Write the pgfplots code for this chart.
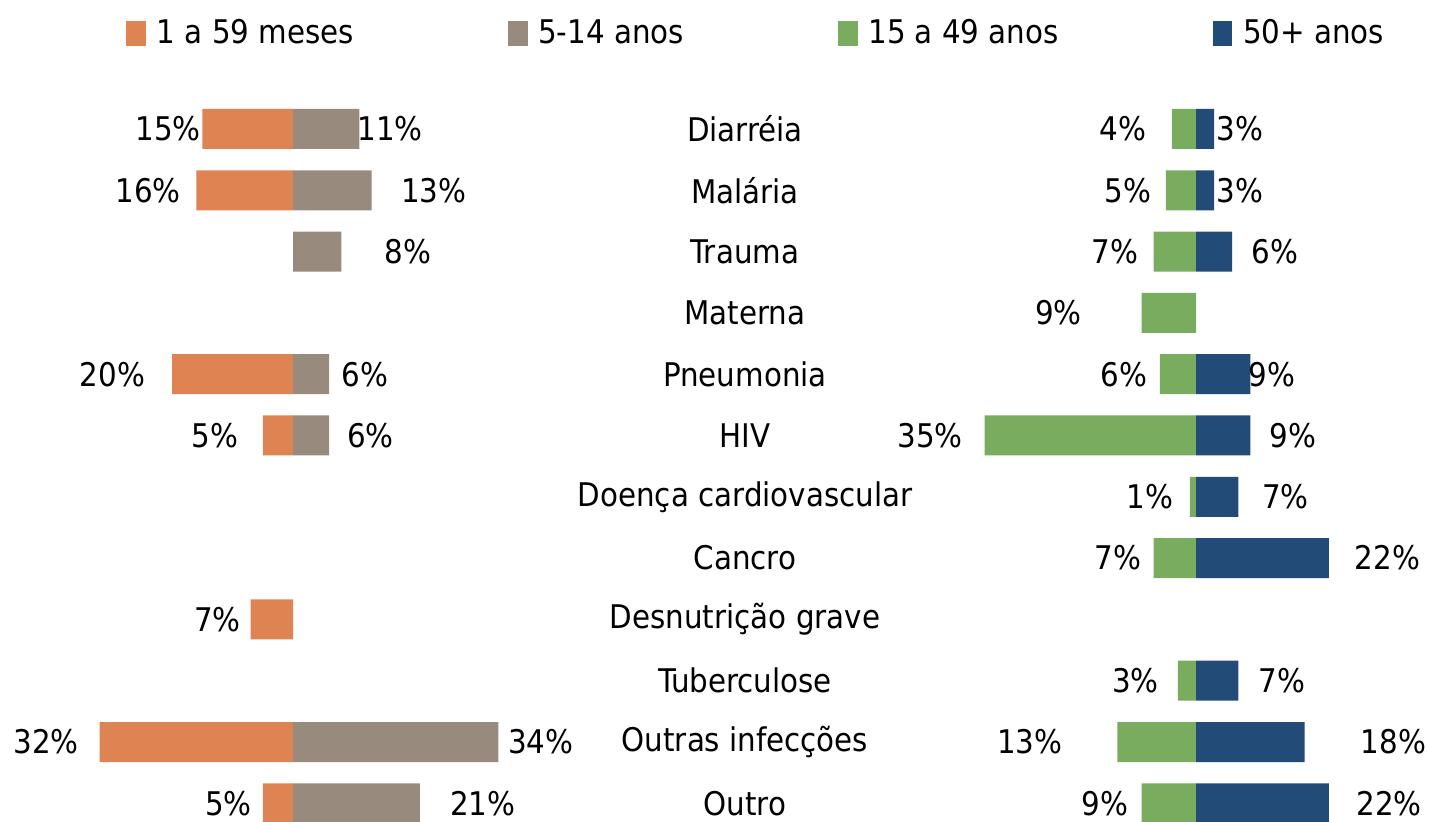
\documentclass[border=0pt]{standalone}
\usepackage{fontspec}
\setmainfont{DejaVu Sans Condensed}
\usepackage{pgfplots}
\pgfplotsset{compat=1.18}
\usepackage{pgfplotstable}

\definecolor{corange}{HTML}{DE8352}
\definecolor{cgray}{HTML}{988B7D}
\definecolor{cgreen}{HTML}{7AAC60}
\definecolor{cblue}{HTML}{234B78}
\newcommand\lblfont{\fontsize{16.3}{19.5}\selectfont}

% row = category index (0 = Diarréia ... 11 = Outro), v = value (%), lx = label centre
\pgfplotstableread{
row v lx
0 15 -20.7
1 16 -23.96
4 20 -29.9
5 5 -12.9
8 7 -12.5
10 32 -40.9
11 5 -10.7
}\tOrange
\pgfplotstableread{
row v lx
0 11 16.1
1 13 23.3
2 8 19.0
4 6 11.9
5 6 12.8
10 34 41.0
11 21 31.4
}\tGray
\pgfplotstableread{
row v lx
0 4 -12.1
1 5 -11.3
2 7 -13.4
3 9 -22.8
4 6 -11.9
5 35 -44.0
6 1 -7.6
7 7 -12.9
9 3 -10.0
10 13 -27.5
11 9 -15.1
}\tGreen
\pgfplotstableread{
row v lx
0 3 7.3
1 3 7.3
2 6 13.1
4 9 12.6
5 9 16.0
6 7 14.8
7 22 31.7
9 7 14.2
10 18 32.7
11 22 32.0
}\tBlue
\pgfplotstableread[col sep=comma]{
row,x,name
0,-74.67,Diarréia
1,-74.67,Malária
2,-74.67,Trauma
3,-74.67,Materna
4,-74.67,Pneumonia
5,-74.67,HIV
6,-74.67,Doença cardiovascular
7,-74.67,Cancro
8,-74.67,Desnutrição grave
9,-74.67,Tuberculose
10,-74.67,Outras infecções
11,-74.67,Outro
}\tCats

\pgfplotsset{
  panel/.style={
    at={(0,0)}, anchor=south west,
    scale only axis, width=714.5pt, height=410.5pt,
    ymin=-2.104, ymax=11.289, y dir=reverse,
    hide axis,
    every node near coord/.append style={anchor=center, font=\lblfont, text=black},
  },
  bars/.style={xbar, bar shift=0pt, bar width=0.6525, draw=none, fill=#1, forget plot},
  lbls/.style={draw=none, mark=none, forget plot,
    nodes near coords={\pgfplotspointmeta\%}, point meta=explicit symbolic},
}

\begin{document}
\begin{tikzpicture}
\useasboundingbox (0,0) rectangle (714.5pt,410.5pt);
% left panel
\begin{axis}[panel, xmin=-48.51, xmax=188.08,
  legend columns=4,
  legend style={at={(axis cs:-27.65,-1.566)}, anchor=west, draw=none, fill=none,
    inner sep=0pt, font=\lblfont,
    /tikz/every odd column/.append style={column sep=3.5pt},
    /tikz/every even column/.append style={column sep=75pt}},
]
\addlegendimage{legend image code/.code={\fill[corange] (0pt,-6pt) rectangle (9.3pt,6pt);}}
\addlegendimage{legend image code/.code={\fill[cgray] (0pt,-6pt) rectangle (9.3pt,6pt);}}
\addlegendimage{legend image code/.code={\fill[cgreen] (0pt,-6pt) rectangle (9.3pt,6pt);}}
\addlegendimage{legend image code/.code={\fill[cblue] (0pt,-6pt) rectangle (9.3pt,6pt);}}
\legend{1 a 59 meses, 5-14 anos, 15 a 49 anos, 50+ anos}
\addplot[bars=corange] table[x expr=-\thisrow{v}, y=row] {\tOrange};
\addplot[bars=cgray] table[x=v, y=row] {\tGray};
\addplot[lbls] table[x=lx, y=row, meta=v] {\tOrange};
\addplot[lbls] table[x=lx, y=row, meta=v] {\tGray};
\end{axis}
% right panel with category names
\begin{axis}[panel, xmin=-198.01, xmax=38.58]
\addplot[bars=cgreen] table[x expr=-\thisrow{v}, y=row] {\tGreen};
\addplot[bars=cblue] table[x=v, y=row] {\tBlue};
\addplot[lbls] table[x=lx, y=row, meta=v] {\tGreen};
\addplot[lbls] table[x=lx, y=row, meta=v] {\tBlue};
\addplot[draw=none, mark=none, forget plot, nodes near coords={\pgfplotspointmeta},
  point meta=explicit symbolic] table[x=x, y=row, meta=name] {\tCats};
\end{axis}
\end{tikzpicture}
\end{document}
